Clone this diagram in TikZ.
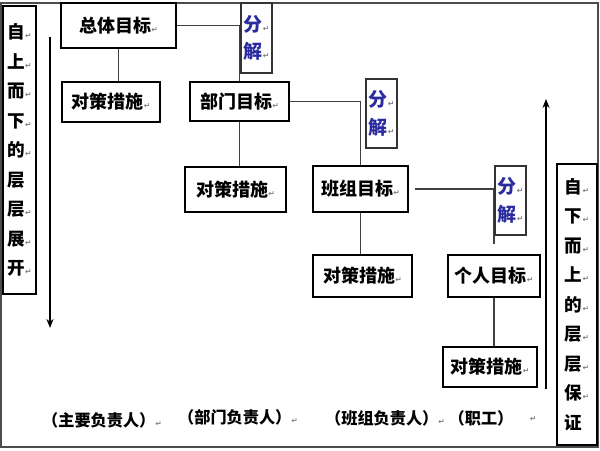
\documentclass[tikz,border=0pt]{standalone}
\usepackage{fontspec}
\setmainfont{Noto Sans CJK SC}
\newfontfamily\dejavu{DejaVu Sans}
\usetikzlibrary{arrows.meta}
\newlength\pxu
\setlength\pxu{0.025cm}
\definecolor{fjblue}{HTML}{2B2BA0}
\newcommand\pmark{{\fontsize{5.5}{5.5}\selectfont\dejavu\color{gray}↵}}
\tikzset{
  box/.style={draw=black, line width=1pt, fill=white, inner sep=0pt,
    font=\fontsize{12.8}{14}\selectfont\bfseries},
  fjbox/.style={draw=black!80, line width=0.9pt, fill=white, inner sep=0pt,
    align=center, text=fjblue, font=\fontsize{13.5}{19.5}\selectfont\bfseries},
  sidebox/.style={draw=black, line width=1pt, fill=white, inner sep=0pt,
    align=center, font=\fontsize{12.5}{21}\selectfont\bfseries},
  conn/.style={draw=black!75, line width=0.8pt},
  bigarrow/.style={draw=black, line width=0.9pt, -{Stealth[length=6.4pt, width=5pt]}},
  lbl/.style={inner sep=0pt, font=\fontsize{11.5}{13}\selectfont\bfseries}
}
\begin{document}
\begin{tikzpicture}[x=0.025cm, y=-0.025cm]
\useasboundingbox (0,0) rectangle (600,450);
\draw[black!70, line width=0.8pt] (1,3) rectangle (598,447);

\node[box, minimum width=115*\pxu, minimum height=45*\pxu] (zt) at (118.5,25.5) {总体目标\pmark};
\node[box, minimum width=99*\pxu, minimum height=39*\pxu] (bm) at (239.5,101.5) {部门目标\pmark};
\node[box, minimum width=95*\pxu, minimum height=46*\pxu] (bz) at (360.5,189) {班组目标\pmark};
\node[box, minimum width=92*\pxu, minimum height=42*\pxu] (gr) at (494,276) {个人目标\pmark};
\node[box, minimum width=98*\pxu, minimum height=40*\pxu] (dc1) at (111,102) {对策措施\pmark};
\node[box, minimum width=101*\pxu, minimum height=45*\pxu] (dc2) at (235.5,189.5) {对策措施\pmark};
\node[box, minimum width=99*\pxu, minimum height=42*\pxu] (dc3) at (362.5,276) {对策措施\pmark};
\node[box, minimum width=94*\pxu, minimum height=40*\pxu] (dc4) at (490,367) {对策措施\pmark};

\draw[conn] (zt.east) -| (bm.north);
\draw[conn] (zt.south) -- (zt.south |- dc1.north);
\draw[conn] (bm.east) -| (bz.north);
\draw[conn] (bm.south) -- (bm.south |- dc2.north);
\draw[conn, shorten <=6\pxu, shorten >=10\pxu] (bz.east) -| (gr.north);
\draw[conn] (bz.south) -- (bz.south |- dc3.north);
\draw[conn] (gr.south) -- (gr.south |- dc4.north);

\node[fjbox, minimum width=31*\pxu, minimum height=70*\pxu] (fj1) at (256.5,38) {分\pmark\\解\pmark};
\node[fjbox, minimum width=31*\pxu, minimum height=69*\pxu] (fj2) at (381.5,113.5) {分\pmark\\解\pmark};
\node[fjbox, minimum width=31*\pxu, minimum height=69*\pxu] (fj3) at (510.5,200.5) {分\pmark\\解\pmark};

\node[sidebox, minimum width=33*\pxu, minimum height=288*\pxu] (lbox) at (19.5,150)
  {自\pmark\\上\pmark\\而\pmark\\下\pmark\\的\pmark\\层\phantom{\pmark}\\层\pmark\\展\pmark\\开\pmark};
\node[sidebox, minimum width=40*\pxu, minimum height=281*\pxu] (rbox) at (577,304.5)
  {自\pmark\\下\pmark\\而\pmark\\上\pmark\\的\pmark\\层\pmark\\层\pmark\\保\pmark\\证\phantom{\pmark}};

\coordinate (la1) at (50,37);
\coordinate (la2) at (50,328);
\draw[bigarrow] (la1) -- (la2);
\coordinate (ra1) at (546,389);
\coordinate (ra2) at (546,99);
\draw[bigarrow] (ra1) -- (ra2);

\node[lbl] (p1) at (102,420) {（主要负责人）\pmark};
\node[lbl] (p2) at (238,417) {（部门负责人）\pmark};
\node[lbl] (p3) at (385,418) {（班组负责人）\pmark};
\node[lbl] (p4) at (481,418) {（职工）};
\node[lbl] (p5) at (533,419) {\pmark};
\end{tikzpicture}
\end{document}
